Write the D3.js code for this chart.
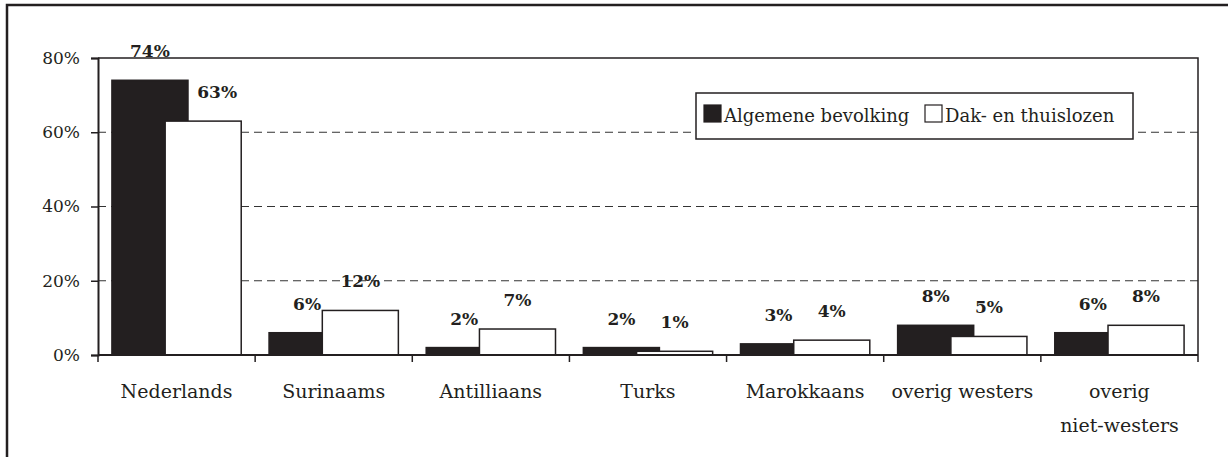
<!DOCTYPE html>
<html>
<head>
<meta charset="utf-8">
<script src="https://cdn.jsdelivr.net/npm/d3@7"></script>
<style>
  body { margin: 0; background: #fff; }
  svg { display: block; font-family: "DejaVu Serif", serif; }
</style>
</head>
<body>
<svg id="chart" width="1228" height="457"></svg>
<script>
// data
const categories = ['Nederlands', 'Surinaams', 'Antilliaans', 'Turks', 'Marokkaans', 'overig westers', 'overig\nniet-westers'];
const seriesNames = ['Algemene bevolking', 'Dak- en thuislozen'];
const algemeen = [74, 6, 2, 2, 3, 8, 6];
const daklozen = [63, 12, 7, 1, 4, 5, 8];
const yTicks = [0, 20, 40, 60, 80];

const ink = '#231f20';
const margin = { left: 98, right: 1198, top: 58, bottom: 355 };

const svg = d3.select('#chart');

// outer frame (only top and left edges visible)
svg.append('rect')
  .attr('x', 7).attr('y', 5)
  .attr('width', 1300).attr('height', 600)
  .attr('fill', 'none')
  .attr('stroke', ink)
  .attr('stroke-width', 2.5);

const x = d3.scaleBand()
  .domain(categories)
  .range([margin.left, margin.right]);

const y = d3.scaleLinear()
  .domain([0, 80])
  .range([margin.bottom, margin.top]);

const band = x.bandwidth();
const barW = band * 0.484;
const overlap = 0.3;
const groupW = barW * (2 - overlap);
const pad = (band - groupW) / 2;

// gridlines
svg.append('g')
  .selectAll('line')
  .data(yTicks.filter(t => t > 0 && t < 80))
  .enter().append('line')
  .attr('x1', margin.left).attr('x2', margin.right)
  .attr('y1', d => y(d)).attr('y2', d => y(d))
  .attr('stroke', '#333')
  .attr('stroke-width', 1)
  .attr('stroke-dasharray', '8,5');

// plot frame: top and right solid
svg.append('path')
  .attr('d', `M${margin.left},${y(80)}H${margin.right}V${y(0)}`)
  .attr('fill', 'none')
  .attr('stroke', ink)
  .attr('stroke-width', 1.5);

// bars
const rows = categories.map((c, i) => ({ cat: c, a: algemeen[i], d: daklozen[i] }));

const groups = svg.append('g')
  .selectAll('g')
  .data(rows)
  .enter().append('g')
  .attr('transform', d => `translate(${x(d.cat) + pad},0)`);

groups.append('rect')
  .attr('x', 0)
  .attr('y', d => y(d.a))
  .attr('width', barW)
  .attr('height', d => y(0) - y(d.a))
  .attr('fill', ink)
  .attr('stroke', ink)
  .attr('stroke-width', 1.5);

groups.append('rect')
  .attr('x', barW * (1 - overlap))
  .attr('y', d => y(d.d))
  .attr('width', barW)
  .attr('height', d => y(0) - y(d.d))
  .attr('fill', '#fff')
  .attr('stroke', ink)
  .attr('stroke-width', 1.5);

// value labels
groups.append('text')
  .attr('x', barW / 2)
  .attr('y', d => y(d.a) - 23)
  .attr('text-anchor', 'middle')
  .attr('font-weight', 'bold')
  .attr('font-size', 17)
  .attr('fill', ink)
  .text(d => d.a + '%');

// NB: first white label sits a little to the right, as in the source
groups.append('text')
  .attr('x', (d, i) => barW * (1 - overlap) + barW / 2 + (i === 0 ? 14 : 0))
  .attr('y', d => y(d.d) - 23)
  .attr('text-anchor', 'middle')
  .attr('font-weight', 'bold')
  .attr('font-size', 17)
  .attr('fill', ink)
  .text(d => d.d + '%');

// y axis
const yAxis = svg.append('g')
  .attr('transform', `translate(${margin.left},0)`)
  .call(d3.axisLeft(y).tickValues(yTicks).tickSize(7).tickPadding(11).tickFormat(d => d + '%'));
yAxis.select('.domain').attr('stroke', ink).attr('stroke-width', 2);
yAxis.selectAll('.tick line').attr('stroke', ink).attr('stroke-width', 1.5);
yAxis.selectAll('.tick text')
  .attr('font-family', '"DejaVu Serif", serif')
  .attr('font-size', 17)
  .attr('fill', ink);

// x axis baseline with ticks at band edges
svg.append('line')
  .attr('x1', margin.left).attr('x2', margin.right)
  .attr('y1', y(0)).attr('y2', y(0))
  .attr('stroke', ink).attr('stroke-width', 2);

const edges = categories.map(c => x(c)).concat([margin.right]);
svg.append('g')
  .selectAll('line')
  .data(edges)
  .enter().append('line')
  .attr('x1', d => d).attr('x2', d => d)
  .attr('y1', y(0)).attr('y2', y(0) + 7)
  .attr('stroke', ink).attr('stroke-width', 1.5);

// category labels
const catLabels = svg.append('g')
  .selectAll('text')
  .data(categories)
  .enter().append('text')
  .attr('x', d => x(d) + band / 2)
  .attr('y', 398)
  .attr('text-anchor', 'middle')
  .attr('font-size', 19)
  .attr('fill', ink);
catLabels.each(function(d) {
  const lines = d.split('\n');
  d3.select(this).selectAll('tspan')
    .data(lines)
    .enter().append('tspan')
    .attr('x', x(d) + band / 2)
    .attr('dy', (l, i) => i === 0 ? 0 : 34)
    .text(l => l);
});

// legend
const legend = svg.append('g');
legend.append('rect')
  .attr('x', 696).attr('y', 93)
  .attr('width', 437).attr('height', 46)
  .attr('fill', '#fff')
  .attr('stroke', ink)
  .attr('stroke-width', 1.5);

const legendX = [704, 925];
seriesNames.forEach((name, i) => {
  legend.append('rect')
    .attr('x', legendX[i]).attr('y', 105)
    .attr('width', 17).attr('height', 17)
    .attr('fill', i === 0 ? ink : '#fff')
    .attr('stroke', ink)
    .attr('stroke-width', 1.2);
  legend.append('text')
    .attr('x', legendX[i] + 20)
    .attr('y', 122)
    .attr('font-size', 18)
    .attr('fill', ink)
    .text(name);
});
</script>
</body>
</html>
